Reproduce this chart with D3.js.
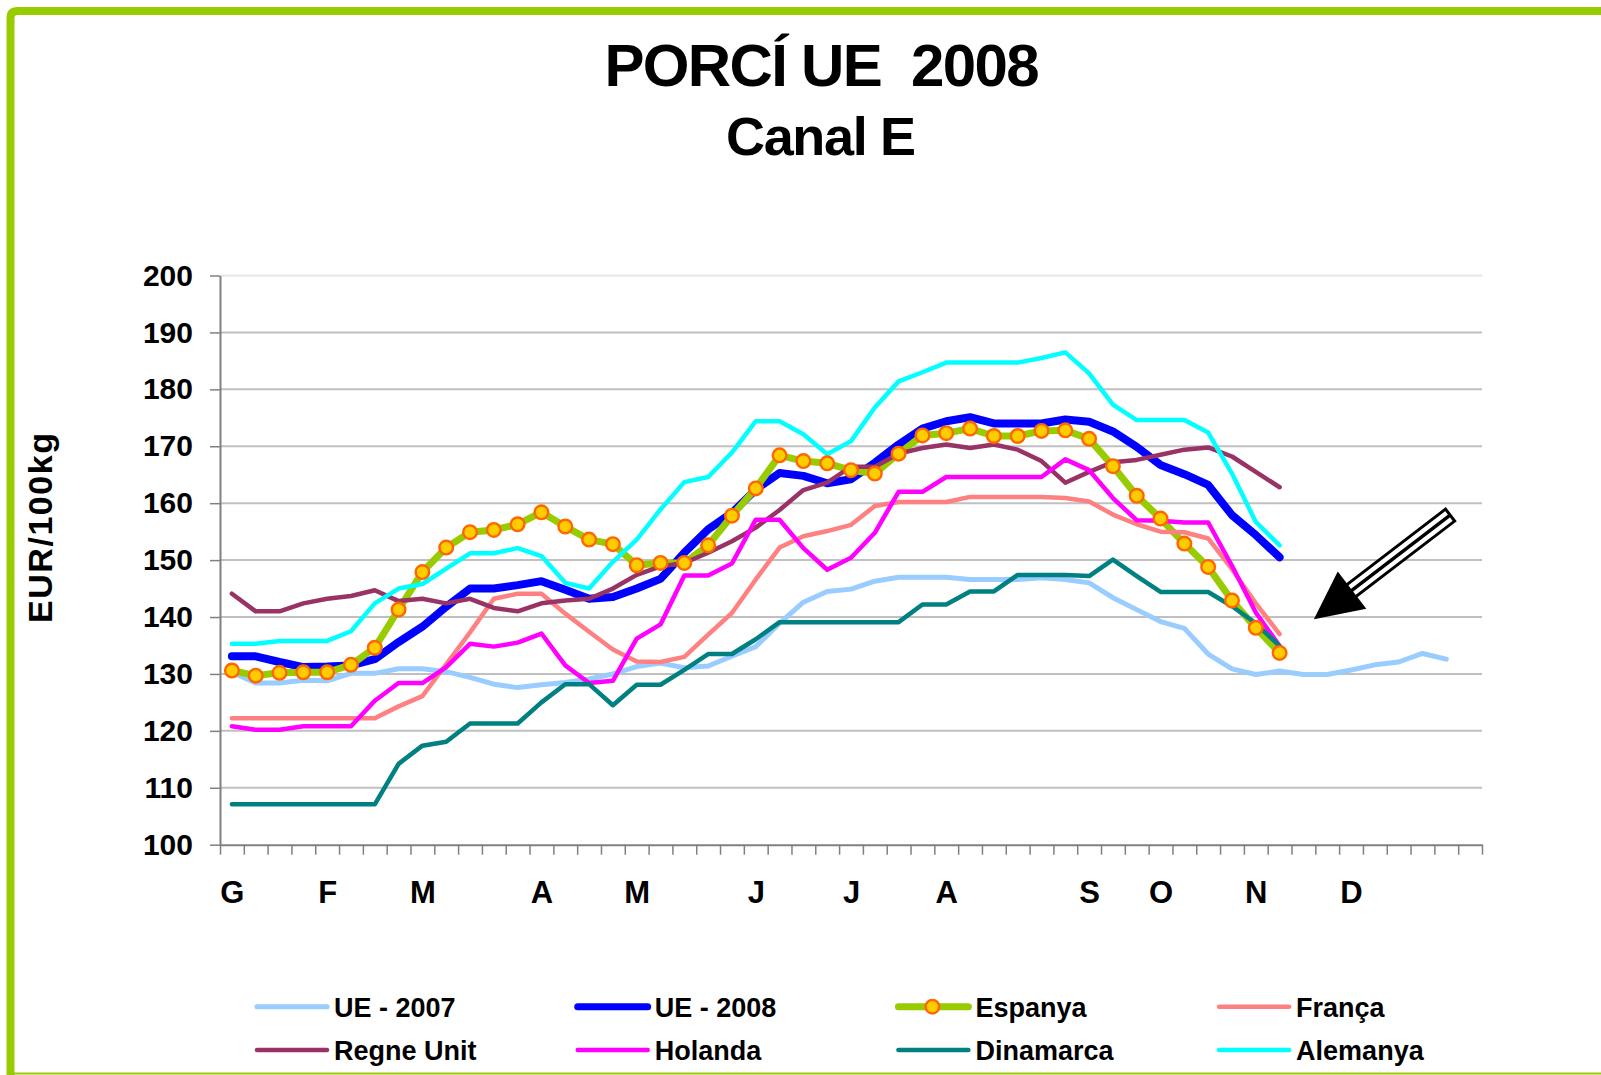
<!DOCTYPE html>
<html>
<head>
<meta charset="utf-8">
<script src="https://cdn.jsdelivr.net/npm/d3@7"></script>
<style>
  body { margin: 0; background: #fff; }
  svg { display: block; font-family: "Liberation Sans", Arial, sans-serif; font-weight: bold; }
</style>
</head>
<body>
<div id="vis"></div>
<script>
// Frame constants
const FRAME_WIDTH = 1601;
const FRAME_HEIGHT = 1075;
const PLOT = {left: 220, right: 1482, top: 275.5, bottom: 844.7};

// Categories (weeks) and axis labels
const weeks = d3.range(1, 54);
const monthLabels = ["G", "F", "M", "A", "M", "J", "J", "A", "S", "O", "N", "D"];
const monthWeeks = [1, 5, 9, 14, 18, 23, 27, 31, 37, 40, 44, 48];
const yTicks = [100, 110, 120, 130, 140, 150, 160, 170, 180, 190, 200];

// Series values, EUR/100kg, week 1 onwards
const ue2007 = [130.3, 128.4, 128.4, 128.9, 128.8, 130.1, 130.1, 130.9, 130.9, 130.4,
  129.4, 128.2, 127.6, 128.1, 128.5, 129.1, 130.0, 131.3, 131.9, 131.1,
  131.4, 133.1, 134.8, 138.9, 142.6, 144.5, 144.9, 146.3, 147.0, 147.0,
  147.0, 146.6, 146.6, 146.6, 146.9, 146.6, 146.0, 143.4, 141.3, 139.2,
  138.0, 133.5, 130.9, 129.9, 130.5, 129.9, 129.9, 130.7, 131.6, 132.1,
  133.6, 132.6];
const ue2008 = [133.1, 133.1, 132.1, 131.2, 131.3, 131.5, 132.6, 135.6, 138.3, 141.8,
  145.0, 145.0, 145.6, 146.3, 144.8, 143.2, 143.5, 145.0, 146.7, 151.3,
  155.4, 158.3, 162.4, 165.3, 164.8, 163.5, 164.2, 167.1, 170.3, 173.1,
  174.4, 175.1, 174.0, 174.0, 174.0, 174.7, 174.3, 172.6, 169.9, 166.7,
  165.1, 163.2, 157.9, 154.4, 150.5];
const espanya = [130.6, 129.7, 130.2, 130.3, 130.3, 131.6, 134.6, 141.3, 147.9, 152.2,
  154.9, 155.3, 156.3, 158.4, 155.9, 153.6, 152.8, 149.1, 149.5, 149.5,
  152.6, 157.8, 162.6, 168.4, 167.4, 167.0, 165.8, 165.2, 168.7, 171.9,
  172.3, 173.1, 171.8, 171.8, 172.7, 172.8, 171.3, 166.5, 161.3, 157.3,
  152.9, 148.8, 142.9, 138.1, 133.7];
const franca = [122.2, 122.2, 122.2, 122.2, 122.2, 122.2, 122.2, 124.3, 126.1, 131.7,
  137.3, 143.2, 144.1, 144.1, 140.6, 137.4, 134.3, 132.2, 132.1, 133.0,
  136.9, 140.7, 146.6, 152.2, 154.2, 155.1, 156.2, 159.5, 160.2, 160.2,
  160.2, 161.1, 161.1, 161.1, 161.1, 160.9, 160.3, 158.0, 156.3, 155.0,
  154.9, 153.8, 148.4, 142.4, 137.0];
const regneUnit = [144.1, 141.0, 141.0, 142.4, 143.2, 143.7, 144.7, 142.8, 143.2, 142.4,
  143.2, 141.6, 141.0, 142.4, 142.9, 143.2, 145.0, 147.4, 148.9, 149.5,
  151.3, 153.3, 155.7, 158.8, 162.3, 163.6, 166.4, 166.4, 168.7, 169.7,
  170.3, 169.7, 170.3, 169.4, 167.4, 163.6, 165.5, 167.2, 167.6, 168.5,
  169.4, 169.8, 168.2, 165.5, 162.8];
const holanda = [120.8, 120.2, 120.2, 120.8, 120.8, 120.8, 125.3, 128.4, 128.4, 131.2,
  135.3, 134.8, 135.5, 137.1, 131.5, 128.4, 128.8, 136.2, 138.7, 147.3,
  147.3, 149.4, 157.1, 157.1, 152.1, 148.3, 150.4, 154.8, 162.0, 162.0,
  164.6, 164.6, 164.6, 164.6, 164.6, 167.7, 165.8, 160.9, 157.0, 156.9,
  156.6, 156.6, 149.0, 140.8, 134.9];
const dinamarca = [107.1, 107.1, 107.1, 107.1, 107.1, 107.1, 107.1, 114.2, 117.4, 118.1,
  121.3, 121.3, 121.3, 125.0, 128.2, 128.2, 124.5, 128.1, 128.1, 130.7,
  133.5, 133.5, 136.1, 139.1, 139.1, 139.1, 139.1, 139.1, 139.1, 142.2,
  142.2, 144.5, 144.5, 147.4, 147.4, 147.4, 147.2, 150.1, 147.2, 144.4,
  144.4, 144.4, 141.9, 138.9, 134.9];
const alemanya = [135.3, 135.3, 135.8, 135.8, 135.8, 137.5, 142.4, 145.0, 145.8, 148.5,
  151.2, 151.2, 152.1, 150.7, 146.0, 145.0, 149.7, 153.6, 158.9, 163.7,
  164.6, 168.9, 174.4, 174.4, 172.1, 168.6, 170.9, 176.8, 181.4, 183.0,
  184.7, 184.7, 184.7, 184.7, 185.5, 186.5, 182.8, 177.3, 174.6, 174.6,
  174.6, 172.4, 165.2, 156.7, 152.6];

// Series table (legend order, also drawing order)
const SERIES = [
  {name: "UE - 2007", values: ue2007, color: "#99CCFF", width: 5},
  {name: "UE - 2008", values: ue2008, color: "#0000FF", width: 8},
  {name: "Espanya", values: espanya, color: "#99CC00", width: 7, marker: true},
  {name: "França", values: franca, color: "#FF8080", width: 4.5},
  {name: "Regne Unit", values: regneUnit, color: "#993366", width: 4.5},
  {name: "Holanda", values: holanda, color: "#FF00FF", width: 4.5},
  {name: "Dinamarca", values: dinamarca, color: "#008080", width: 4.5},
  {name: "Alemanya", values: alemanya, color: "#00FFFF", width: 4.5}
];

// Arrow annotation in data units (week, value)
const ARROW = {tip: [46.44, 139.6], tail: [52.16, 157.9]};

const FRAME = d3.select("#vis")
  .append("svg")
    .attr("width", FRAME_WIDTH)
    .attr("height", FRAME_HEIGHT);

FRAME.append("rect")
  .attr("width", FRAME_WIDTH).attr("height", FRAME_HEIGHT)
  .attr("fill", "#fff");

// Green frame: thick top and left, thin bottom
FRAME.append("path")
  .attr("d", "M10.5,1075 L10.5,18 Q10.5,11 17.5,11 L1601,11")
  .attr("fill", "none")
  .attr("stroke", "#99CC00")
  .attr("stroke-width", 8);
FRAME.append("line")
  .attr("x1", 10).attr("x2", 1601)
  .attr("y1", 1073.5).attr("y2", 1073.5)
  .attr("stroke", "#99CC00")
  .attr("stroke-width", 2);

// Scales
const X_SCALE = d3.scaleLinear()
  .domain([0.5, weeks.length + 0.5])
  .range([PLOT.left, PLOT.right]);
const Y_SCALE = d3.scaleLinear()
  .domain([100, 200])
  .range([PLOT.bottom, PLOT.top]);

// Titles
FRAME.append("text")
  .attr("x", 822).attr("y", 86)
  .attr("text-anchor", "middle")
  .attr("font-size", 60)
  .attr("textLength", 435)
  .attr("lengthAdjust", "spacing")
  .text("PORCÍ UE\u00a0 2008");
FRAME.append("text")
  .attr("x", 821).attr("y", 155)
  .attr("text-anchor", "middle")
  .attr("font-size", 54)
  .attr("textLength", 190)
  .attr("lengthAdjust", "spacing")
  .text("Canal E");

// Axis title
FRAME.append("text")
  .attr("transform", "translate(52,528) rotate(-90)")
  .attr("text-anchor", "middle")
  .attr("font-size", 34)
  .attr("textLength", 190)
  .attr("lengthAdjust", "spacing")
  .text("EUR/100kg");

// Gridlines
FRAME.append("g")
  .selectAll("line")
  .data(yTicks.filter(d => d > 100))
  .enter()
  .append("line")
    .attr("x1", PLOT.left).attr("x2", PLOT.right)
    .attr("y1", d => Y_SCALE(d)).attr("y2", d => Y_SCALE(d))
    .attr("stroke", d => d === 200 ? "#E6E6E6" : "#C0C0C0")
    .attr("stroke-width", 2);

// Y axis
const yAxis = FRAME.append("g")
  .attr("transform", "translate(" + PLOT.left + ",0)")
  .call(d3.axisLeft(Y_SCALE).tickValues(yTicks).tickSize(10).tickPadding(17).tickSizeOuter(0));
yAxis.selectAll("text")
  .attr("font-size", 30)
  .attr("font-family", "Liberation Sans, Arial, sans-serif")
  .attr("font-weight", "bold")
  .attr("fill", "#000");

// X axis: tick marks at week boundaries
const xTicks = FRAME.append("g")
  .attr("transform", "translate(0," + PLOT.bottom + ")")
  .call(d3.axisBottom(X_SCALE)
    .tickValues(d3.range(0.5, weeks.length + 1, 1))
    .tickSize(10).tickSizeOuter(0).tickFormat(""));

// X axis: month labels
const xLabels = FRAME.append("g")
  .attr("transform", "translate(0," + PLOT.bottom + ")")
  .call(d3.axisBottom(X_SCALE)
    .tickValues(monthWeeks)
    .tickSize(0).tickPadding(36)
    .tickFormat((d, i) => monthLabels[i]));
xLabels.select(".domain").remove();
xLabels.selectAll("text")
  .attr("font-size", 31)
  .attr("font-family", "Liberation Sans, Arial, sans-serif")
  .attr("font-weight", "bold")
  .attr("fill", "#000");

[yAxis, xTicks].forEach(g => {
  g.select(".domain").attr("stroke", "#808080").attr("stroke-width", 2);
  g.selectAll(".tick line").attr("stroke", "#808080").attr("stroke-width", 1.5);
});

// Lines
const line = d3.line()
  .defined(d => d != null)
  .x((d, i) => X_SCALE(weeks[i]))
  .y(d => Y_SCALE(d));

FRAME.append("g")
  .selectAll("path")
  .data(SERIES)
  .enter()
  .append("path")
    .attr("d", d => line(d.values))
    .attr("fill", "none")
    .attr("stroke", d => d.color)
    .attr("stroke-width", d => d.width)
    .attr("stroke-linejoin", "round")
    .attr("stroke-linecap", "round");

// Espanya markers
FRAME.append("g")
  .selectAll("circle")
  .data(espanya)
  .enter()
  .append("circle")
    .attr("cx", (d, i) => X_SCALE(weeks[i]))
    .attr("cy", d => Y_SCALE(d))
    .attr("r", 6.8)
    .attr("fill", "#FFCC00")
    .attr("stroke", "#FF6600")
    .attr("stroke-width", 2.4);

// Arrow
const tip = [X_SCALE(ARROW.tip[0]), Y_SCALE(ARROW.tip[1])];
const tail = [X_SCALE(ARROW.tail[0]), Y_SCALE(ARROW.tail[1])];
const len = Math.hypot(tail[0] - tip[0], tail[1] - tip[1]);
const u = [(tail[0] - tip[0]) / len, (tail[1] - tip[1]) / len];
const n = [u[1] * -1, u[0]];
const pt = (a, b) => [tip[0] + u[0] * a + n[0] * b, tip[1] + u[1] * a + n[1] * b];
const HEAD_L = 48, HEAD_W = 23.5, SHAFT_W = 7.5;

FRAME.append("path")
  .attr("d", d3.line()([pt(HEAD_L - 6, -SHAFT_W), pt(len, -SHAFT_W), pt(len, SHAFT_W), pt(HEAD_L - 6, SHAFT_W)]) + "Z")
  .attr("fill", "#fff")
  .attr("stroke", "#000")
  .attr("stroke-width", 3);
FRAME.append("path")
  .attr("d", d3.line()([pt(HEAD_L - 6, 0), pt(len, 0)]))
  .attr("stroke", "#000")
  .attr("stroke-width", 3.5);
FRAME.append("path")
  .attr("d", d3.line()([pt(0, 0), pt(HEAD_L, -HEAD_W), pt(HEAD_L, HEAD_W)]) + "Z")
  .attr("fill", "#000");

// Legend
const LEGEND = {x0: 257, dx: 320.7, y0: 1006.7, dy: 43.3, lineLen: 70};
const legendItems = FRAME.append("g")
  .selectAll("g")
  .data(SERIES)
  .enter()
  .append("g")
    .attr("transform", (d, i) => "translate(" + (LEGEND.x0 + (i % 4) * LEGEND.dx) + "," +
      (LEGEND.y0 + Math.floor(i / 4) * LEGEND.dy) + ")");

legendItems.append("line")
  .attr("x1", 0).attr("x2", LEGEND.lineLen)
  .attr("stroke", d => d.color)
  .attr("stroke-width", d => Math.min(d.width, 7))
  .attr("stroke-linecap", "round");

legendItems.filter(d => d.marker)
  .append("circle")
    .attr("cx", 34).attr("r", 6.8)
    .attr("fill", "#FFCC00")
    .attr("stroke", "#FF6600")
    .attr("stroke-width", 2.4);

legendItems.append("text")
  .attr("x", LEGEND.lineLen + 7)
  .attr("y", 10)
  .attr("font-size", 27)
  .text(d => d.name);
</script>
</body>
</html>
